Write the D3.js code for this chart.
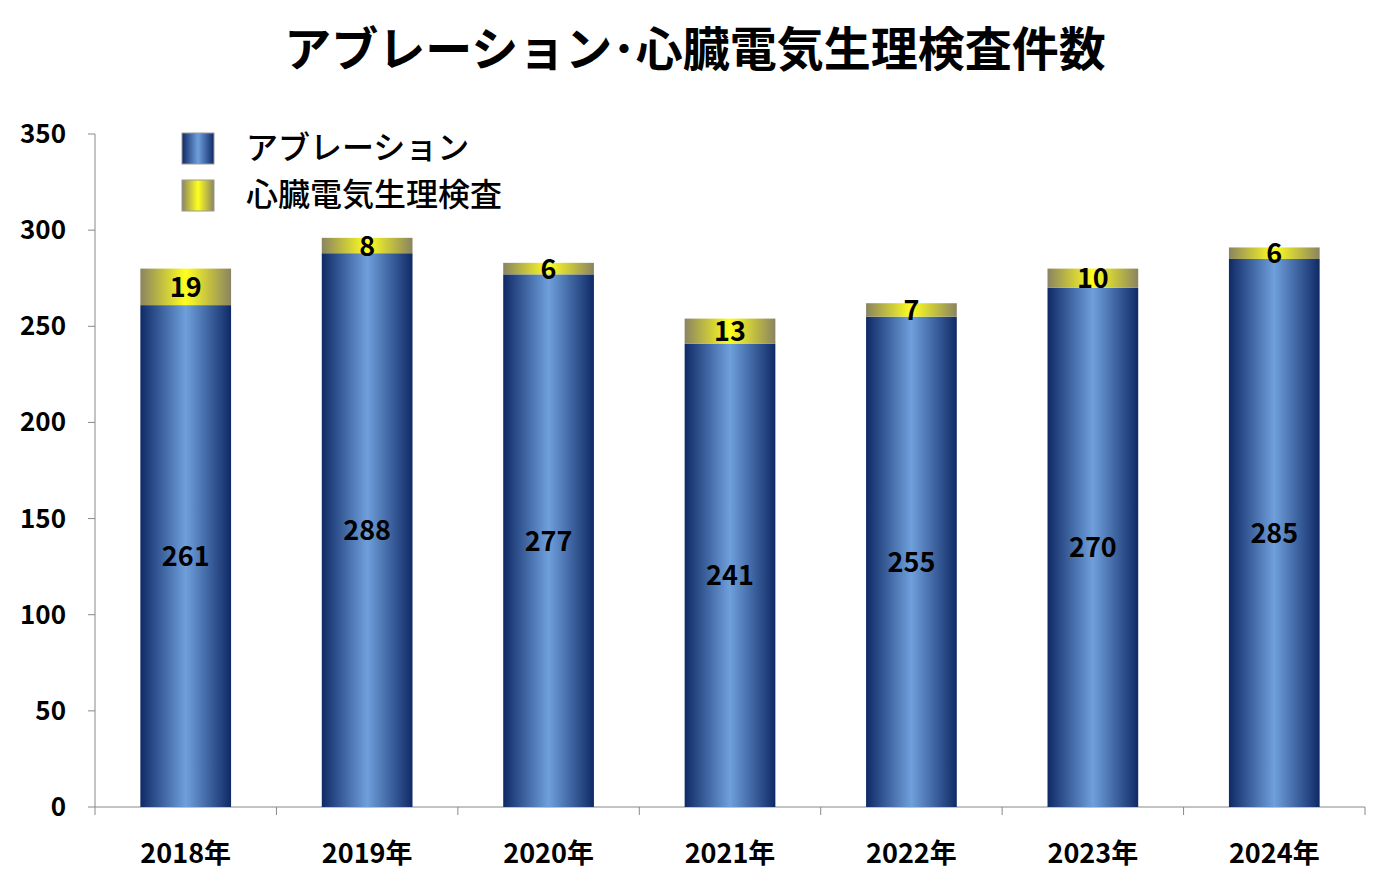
<!DOCTYPE html>
<html><head><meta charset="utf-8">
<script src="https://cdn.jsdelivr.net/npm/d3@7"></script>
<style>body{margin:0;background:#fff}text{font-family:"Noto Sans CJK JP",sans-serif}</style>
</head><body><svg id="svg" width="1387" height="886"></svg>
<script>
var years = ["2018年","2019年","2020年","2021年","2022年","2023年","2024年"];
var ablation = [261,288,277,241,255,270,285];
var ep = [19,8,6,13,7,10,6];
var yTicks = [0,50,100,150,200,250,300,350];

var svg = d3.select("#svg");
var defs = svg.append("defs");
var g1 = defs.append("linearGradient").attr("id","blue");
[["0%","#0f2a66"],["50%","#6fa0dc"],["100%","#0f2a66"]].forEach(function(s){g1.append("stop").attr("offset",s[0]).attr("stop-color",s[1]);});
var g2 = defs.append("linearGradient").attr("id","yel");
[["0%","#8a8460"],["50%","#ffff20"],["100%","#8a8460"]].forEach(function(s){g2.append("stop").attr("offset",s[0]).attr("stop-color",s[1]);});

var x = d3.scaleBand().domain(years).range([95,1365]).paddingInner(0.5).paddingOuter(0.25);
var y = d3.scaleLinear().domain([0,350]).range([807,134]);

svg.append("text").attr("x",695).attr("y",66).attr("text-anchor","middle")
  .style("font-size","47px").style("font-weight","bold").text("アブレーション･心臓電気生理検査件数");

// axes
svg.append("line").attr("x1",95).attr("x2",95).attr("y1",134).attr("y2",807).attr("stroke","#888");
svg.append("line").attr("x1",95).attr("x2",1365).attr("y1",807).attr("y2",807).attr("stroke","#888");
yTicks.forEach(function(t){
  svg.append("line").attr("x1",88).attr("x2",95).attr("y1",y(t)).attr("y2",y(t)).attr("stroke","#888");
  svg.append("text").attr("x",66).attr("y",y(t)+9).attr("text-anchor","end")
    .style("font-size","26px").style("font-weight","bold").text(t);
});
for (var i=0;i<=years.length;i++){
  var xx = 95 + i*(1270/years.length);
  svg.append("line").attr("x1",xx).attr("x2",xx).attr("y1",807).attr("y2",815).attr("stroke","#888");
}
years.forEach(function(yr){
  svg.append("text").attr("x",x(yr)+x.bandwidth()/2).attr("y",863).attr("text-anchor","middle")
    .style("font-size","27px").style("font-weight","bold").text(yr);
});

// bars
years.forEach(function(yr,i){
  var a = ablation[i], e = ep[i], bx = x(yr), bw = x.bandwidth();
  svg.append("rect").attr("x",bx).attr("y",y(a)).attr("width",bw).attr("height",y(0)-y(a)).attr("fill","url(#blue)");
  svg.append("rect").attr("x",bx).attr("y",y(a+e)).attr("width",bw).attr("height",y(a)-y(a+e)).attr("fill","url(#yel)");
  svg.append("text").attr("x",bx+bw/2).attr("y",(y(a)+y(0))/2+10).attr("text-anchor","middle")
    .style("font-size","27px").style("font-weight","bold").text(a);
  svg.append("text").attr("x",bx+bw/2).attr("y",(y(a)+y(a+e))/2+10).attr("text-anchor","middle")
    .style("font-size","27px").style("font-weight","bold").text(e);
});

// legend
var leg = [["url(#blue)","アブレーション"],["url(#yel)","心臓電気生理検査"]];
leg.forEach(function(l,i){
  svg.append("rect").attr("x",182).attr("y",133+i*47).attr("width",32).attr("height",31).attr("fill",l[0]).attr("stroke","#999");
  svg.append("text").attr("x",246).attr("y",159+i*47).style("font-size","32px").style("font-weight","500").text(l[1]);
});
</script></body></html>
